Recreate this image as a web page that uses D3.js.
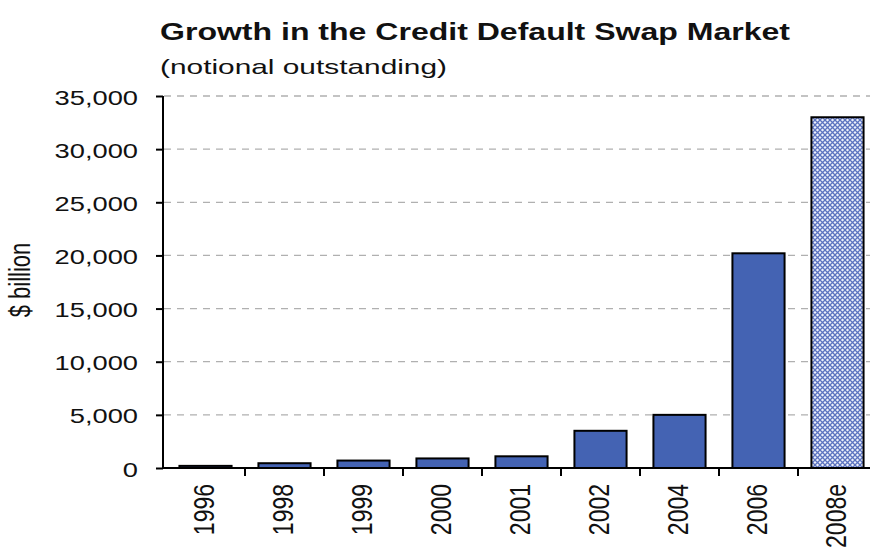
<!DOCTYPE html>
<html>
<head>
<meta charset="utf-8">
<script src="https://cdn.jsdelivr.net/npm/d3@7"></script>
<style>
  body { margin: 0; background: #fff; }
  text { font-family: "Liberation Sans", Arial, sans-serif; fill: #111; }
</style>
</head>
<body>
<script>
let width = 870;
let height = 554;

// data ($ billion, notional outstanding)
let years = ["1996", "1998", "1999", "2000", "2001", "2002", "2004", "2006", "2008e"];
let notional = [200, 450, 700, 900, 1100, 3500, 5000, 20200, 33000];
let yTicks = [0, 5000, 10000, 15000, 20000, 25000, 30000, 35000];

// the source image is stretched sideways, so text gets a horizontal stretch
let stretch = 1.3;

let svg = d3
  .select("body")
  .append("svg")
  .attr("width", width)
  .attr("height", height);

let defs = svg.append("defs");
let pat = defs
  .append("pattern")
  .attr("id", "hatch")
  .attr("patternUnits", "userSpaceOnUse")
  .attr("width", 5)
  .attr("height", 5);
pat.append("rect").attr("width", 5).attr("height", 5).attr("fill", "#eef1fa");
pat
  .append("path")
  .attr("d", "M0,0L5,5M5,0L0,5")
  .attr("stroke", "#5c73c0")
  .attr("stroke-width", 1.3);

let x = d3
  .scaleBand()
  .domain(years)
  .range([166, 877])
  .paddingInner(0.34)
  .paddingOuter(0.17);

let y = d3.scaleLinear().domain([0, 35000]).range([468, 96]);

// grid lines
svg
  .append("g")
  .selectAll("line")
  .data(yTicks.filter((d) => d > 0))
  .join("line")
  .attr("x1", 164)
  .attr("x2", width)
  .attr("y1", (d) => y(d))
  .attr("y2", (d) => y(d))
  .attr("stroke", "#b0b0b0")
  .attr("stroke-width", 1.3)
  .attr("stroke-dasharray", "7,6");

// bars
svg
  .append("g")
  .selectAll("rect")
  .data(years)
  .join("rect")
  .attr("x", (d) => x(d))
  .attr("width", x.bandwidth())
  .attr("y", (d, i) => y(notional[i]))
  .attr("height", (d, i) => y(0) - y(notional[i]))
  .attr("fill", (d) => (d === "2008e" ? "url(#hatch)" : "#4463b3"))
  .attr("stroke", "#000")
  .attr("stroke-width", 2);

// y axis
let yAxis = svg
  .append("g")
  .attr("transform", "translate(163,0)")
  .call(d3.axisLeft(y).tickValues(yTicks).tickSize(7).tickPadding(0).tickFormat(d3.format(",")));
yAxis.select(".domain").attr("stroke", "#000").attr("stroke-width", 2).attr("d", "M0,96V468");
yAxis.selectAll(".tick line").attr("stroke", "#000").attr("stroke-width", 2);
yAxis
  .selectAll(".tick text")
  .attr("x", null)
  .attr("dy", null)
  .attr("font-size", 21)
  .attr("transform", `translate(-25,8) scale(${stretch},1)`)
  .style("font-family", '"Liberation Sans", Arial, sans-serif');

// x axis
let xAxis = svg
  .append("g")
  .attr("transform", "translate(0,468)")
  .call(d3.axisBottom(x).tickSize(0));
xAxis.select(".domain").attr("stroke", "#000").attr("stroke-width", 2).attr("d", "M163,0H870");
xAxis
  .selectAll(".tick text")
  .attr("y", null)
  .attr("dy", null)
  .attr("text-anchor", "end")
  .attr("font-size", 23)
  .attr("transform", `translate(8,16) scale(${stretch},1) rotate(-90)`)
  .style("font-family", '"Liberation Sans", Arial, sans-serif');

// category boundary ticks
let gap = (x.step() - x.bandwidth()) / 2;
svg
  .append("g")
  .selectAll("line")
  .data(years.slice(1))
  .join("line")
  .attr("x1", (d) => x(d) - gap)
  .attr("x2", (d) => x(d) - gap)
  .attr("y1", 468)
  .attr("y2", 476)
  .attr("stroke", "#000")
  .attr("stroke-width", 2);

// axis title
svg
  .append("text")
  .attr("transform", `translate(30,280) scale(${stretch},1) rotate(-90)`)
  .attr("text-anchor", "middle")
  .attr("font-size", 22)
  .text("$ billion");

// titles
svg
  .append("text")
  .attr("x", 160)
  .attr("y", 40)
  .attr("font-size", 23)
  .attr("font-weight", "bold")
  .attr("textLength", 630)
  .attr("lengthAdjust", "spacingAndGlyphs")
  .text("Growth in the Credit Default Swap Market");

svg
  .append("text")
  .attr("x", 160)
  .attr("y", 74)
  .attr("font-size", 21)
  .attr("textLength", 287)
  .attr("lengthAdjust", "spacingAndGlyphs")
  .text("(notional outstanding)");
</script>
</body>
</html>
